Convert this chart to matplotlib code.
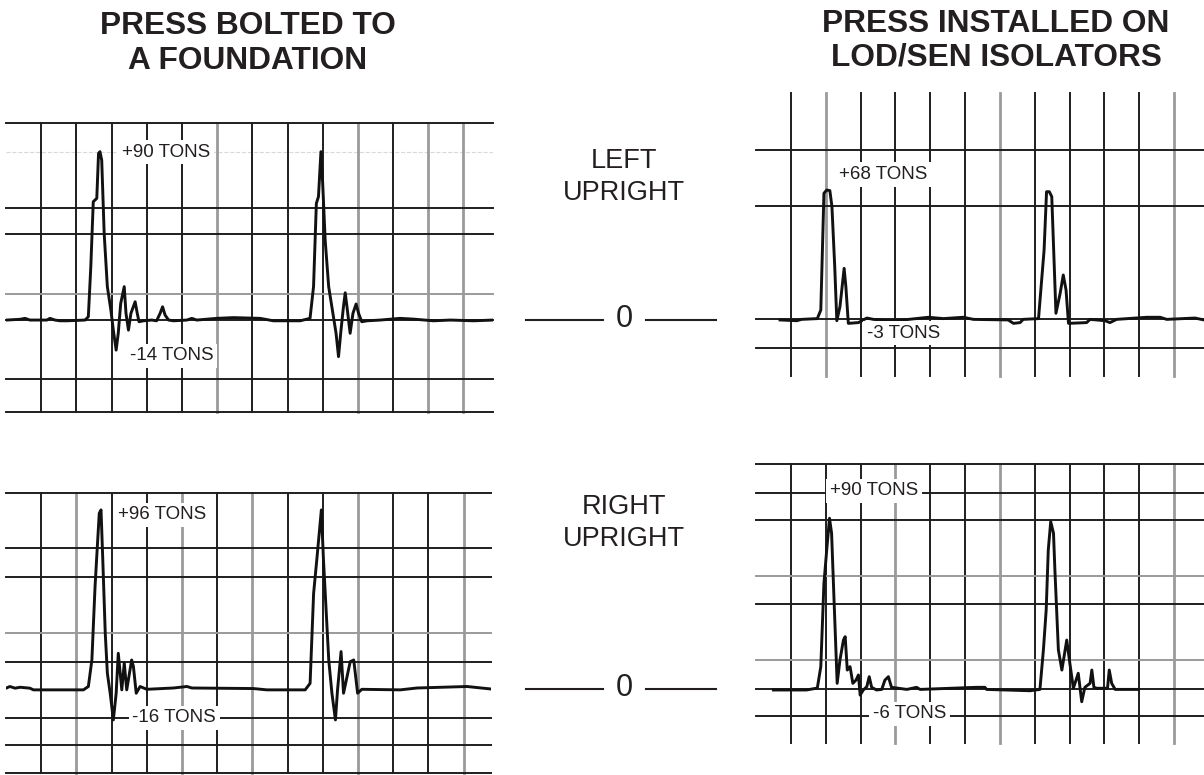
import matplotlib
matplotlib.use("Agg")
import matplotlib.pyplot as plt

plt.rcParams['font.family'] = ['Liberation Sans', 'DejaVu Sans']

W, H = 1204, 775
INK = '#231f20'
GRID = '#1e1e1e'
GRAY = '#9a9a9a'

# strip chart traces: time in chart divisions, force in tons
bolted_left_t = [0.02, 0.40, 0.54, 0.68, 1.16, 1.25, 1.39, 1.54, 1.73, 2.25, 2.34, 2.41, 2.48, 2.58,
                 2.63, 2.67, 2.72, 2.79, 2.88, 2.98, 3.05, 3.13, 3.19, 3.26, 3.36, 3.41, 3.48, 3.55,
                 3.67, 3.73, 3.78, 3.91, 4.14, 4.28, 4.38, 4.45, 4.52, 4.62, 4.76, 5.14, 5.28, 5.42,
                 5.99, 6.46, 7.22, 7.60, 8.36, 8.64, 8.74, 8.82, 8.88, 8.95, 9.00, 9.07, 9.17, 9.29,
                 9.38, 9.45, 9.52, 9.59, 9.64, 9.69, 9.78, 9.86, 9.95, 10.02, 10.11, 10.26, 10.64,
                 11.20, 11.58, 12.15, 12.63, 13.29, 13.84]
bolted_left_tons = [0, 0.4, 0.9, 0, 0, 0.9, 0, -0.4, -0.4, 0, 1.8, 28.6, 63.4, 65.2,
                    89.3, 90.2, 85.7, 46.4, 17.9, 5.4, -5.4, -16.1, -7.1, 8.9, 17.9, 3.6, -5.4, 3.6,
                    9.8, 3.6, -0.9, -0.4, 0, -0.4, 3.6, 7.1, 2.7, 0, -0.4, 0, 0.9, 0,
                    0.9, 1.3, 0.9, -0.4, -0.4, 0.9, 17.9, 62.5, 66.1, 90.2, 73.2, 42.9, 17.9, 3.6,
                    -7.1, -19.6, -5.4, 7.1, 14.6, 7.1, -7.1, 3.6, 8.6, 3.6, -0.9, -0.4, 0,
                    0.9, 0.5, -0.4, 0, -0.4, 0]

iso_left_t = [0.69, 1.17, 1.31, 1.76, 1.86, 1.95, 2.03, 2.12, 2.18, 2.26, 2.32, 2.41, 2.53, 2.58,
              2.65, 2.94, 3.18, 3.37, 3.85, 4.23, 4.95, 5.38, 5.95, 6.24, 7.24, 7.39, 7.58, 7.67,
              8.11, 8.20, 8.27, 8.34, 8.42, 8.49, 8.61, 8.73, 8.82, 8.90, 8.97, 9.49, 9.59, 10.02,
              10.16, 10.35, 11.22, 11.60, 11.79, 12.60, 12.86]
iso_left_tons = [-0.5, -0.9, -0.2, 0.2, 4.7, 66.3, 68.0, 67.7, 59.2, 27.6, -0.9, 6.5, 26.7, 17.0,
                 -2.3, -1.9, 0.5, -0.2, -0.9, -0.5, 0.9, 0.2, 0.9, -0.2, -0.5, -2.3, -1.9, -0.2,
                 0.2, 20.6, 36.4, 67.1, 67.1, 64.5, 3.0, 13.5, 23.2, 15.3, -2.3, -1.9, -0.2, -0.9,
                 -1.9, -0.2, 0.9, 0.9, -0.2, 0.5, -0.5]

bolted_right_t = [0, 0.11, 0.26, 0.40, 0.68, 0.78, 2.20, 2.34, 2.44, 2.53, 2.60, 2.65, 2.70, 2.75,
                  2.82, 2.88, 2.96, 3.05, 3.13, 3.19, 3.29, 3.36, 3.43, 3.57, 3.62, 3.70, 3.81, 4.00,
                  4.76, 5.14, 5.28, 7.03, 7.41, 8.50, 8.64, 8.74, 8.83, 8.96, 9.02, 9.17, 9.26, 9.36,
                  9.42, 9.52, 9.59, 9.78, 9.88, 9.99, 10.11, 11.20, 11.68, 13.10, 13.76]
bolted_right_tons = [0.4, 1.3, 0.4, 0.9, 0.4, -0.5, -0.5, 1.3, 15.5, 54.8, 78.0, 94.1, 95.9, 69.1,
                     29.8, 8.4, -2.3, -16.6, -2.3, 19.1, -0.5, 13.8, -0.5, 15.5, 12.0, -2.3, 1.3, -0.2,
                     0.5, 1.3, 0.5, 0.2, -0.5, -0.5, 3.0, 51.2, 69.1, 95.9, 69.1, 15.5, -2.3, -16.6,
                     -0.5, 20.0, -2.3, 14.6, 15.5, -2.3, -0.2, -0.5, 0.5, 1.3, 0]

iso_right_t = [0.50, 1.02, 1.45, 1.76, 1.86, 1.95, 2.03, 2.11, 2.17, 2.24, 2.33, 2.41, 2.51, 2.56,
               2.62, 2.70, 2.78, 2.87, 2.94, 2.99, 3.08, 3.18, 3.25, 3.32, 3.46, 3.61, 3.70, 3.80,
               3.89, 4.33, 4.61, 4.71, 6.33, 6.57, 6.62, 7.87, 8.15, 8.25, 8.33, 8.39, 8.46, 8.54,
               8.58, 8.68, 8.78, 8.92, 9.01, 9.11, 9.25, 9.35, 9.44, 9.59, 9.64, 9.70, 9.78, 10.09,
               10.14, 10.21, 10.31, 10.98]
iso_right_tons = [-0.5, -0.5, -0.5, 0.5, 11.8, 55.7, 73.3, 90.0, 82.1, 46.9, 3.0, 15.3, 25.8, 27.6,
                  10.0, 11.8, 3.0, 4.7, 7.4, -3.2, -0.5, 1.2, 6.5, 0.9, -0.5, -0.2, 4.7, 6.5,
                  0.9, -0.2, 0.9, -0.2, 0.9, 0.9, -0.2, -0.9, -0.2, 20.6, 41.7, 73.3, 88.2, 82.1,
                  62.7, 20.6, 10.0, 25.8, 13.5, 0.4, 8.3, -6.7, 0.9, 3.0, 10.0, 0.9, 0.4, 0.4,
                  10.0, 3.0, -0.2, -0.2]

# chart paper rulings (tons) and which divisions print light
bolted_left_rules = [105.4, 59.8, 45.9, 0, -31.8, -49.1]
bolted_left_light = [13.8]
iso_left_rules = [89.1, 59.8, 0, -15.5]
iso_left_light = []
bolted_right_rules = [104.8, 75.4, 59.8, 14.3, -15.4, -30.0, -45.2]
bolted_right_light = [29.8]
iso_right_rules = [118.6, 103.5, 89.1, 44.6, 0, -14.2]
iso_right_light = [59.8, 15.3]

peak_labels = ['+90 TONS', '+68 TONS', '+96 TONS', '+90 TONS']
dip_labels = ['-14 TONS', '-3 TONS', '-16 TONS', '-6 TONS']

fig = plt.figure(figsize=(W / 100, H / 100), dpi=100)


def px_axes(l, t, r, b):
    return fig.add_axes([l / W, 1 - b / H, (r - l) / W, (b - t) / H])


def strip(rect, ylim, xmax, nv, light_v, rules, light_rules, t, tons, peak, dip):
    ax = px_axes(*rect)
    ax.set_xlim(0, xmax)
    ax.set_ylim(*ylim)
    ax.axis('off')
    for v in range(1, nv + 1):
        if v in light_v:
            ax.axvline(v, color=GRAY, lw=2.0, clip_on=False, zorder=1)
        else:
            ax.axvline(v, color=GRID, lw=1.4, clip_on=False, zorder=1)
    for r in rules:
        ax.axhline(r, color=GRID, lw=1.4, clip_on=False, zorder=1)
    for r in light_rules:
        ax.axhline(r, color=GRAY, lw=1.4, clip_on=False, zorder=1)
    ax.plot(t, tons, color='#111111', lw=2.1, solid_joinstyle='round', zorder=3)
    box = dict(facecolor='white', edgecolor='none', pad=2.5)
    ax.text(peak[0], peak[1], peak[2], fontsize=13.5, color=INK, va='center', ha='left',
            bbox=box, zorder=5)
    ax.text(dip[0], dip[1], dip[2], fontsize=13.5, color=INK, va='center', ha='left',
            bbox=box, zorder=5)
    return ax


ax1 = strip((6, 123.3, 493, 411.7), (-49.1, 105.4), 13.84, 13, [6, 10, 12, 13],
            bolted_left_rules, bolted_left_light, bolted_left_t, bolted_left_tons,
            (3.29, 90, peak_labels[0]), (3.51, -19.2, dip_labels[0]))
ax1.axhline(90, color='#d9d9d9', lw=0.8, ls='--', zorder=0.5)

strip((756, 93.3, 1204, 375.7), (-29.9, 119), 12.86, 12, [2, 7, 12],
      iso_left_rules, iso_left_light, iso_left_t, iso_left_tons,
      (2.39, 76.2, peak_labels[1]), (3.18, -7.6, dip_labels[1]))

strip((6, 493.3, 491, 773.3), (-45.2, 104.8), 13.78, 13, [2, 5, 7, 10, 13],
      bolted_right_rules, bolted_right_light, bolted_right_t, bolted_right_tons,
      (3.19, 93.4, peak_labels[2]), (3.59, -15.5, dip_labels[2]))

strip((756, 464, 1204, 743.3), (-28.6, 118.6), 12.86, 12, [4, 7, 12],
      iso_right_rules, iso_right_light, iso_right_t, iso_right_tons,
      (2.12, 104.4, peak_labels[3]), (3.35, -13.0, dip_labels[3]))

# zero reference marks between the columns
for rect, ylim in [((500, 123.3, 740, 411.7), (-49.1, 105.4)),
                   ((500, 493.3, 740, 773.3), (-45.2, 104.8))]:
    axm = px_axes(*rect)
    axm.set_xlim(0, 1)
    axm.set_ylim(*ylim)
    axm.axis('off')
    axm.axhline(0, xmin=0.11, xmax=0.43, color=INK, lw=1.5)
    axm.axhline(0, xmin=0.61, xmax=0.90, color=INK, lw=1.5)
    axm.text(0.52, 0.5, '0', fontsize=22, color=INK, ha='center', va='center')

fig.text(247.5 / W, 1 - 43.5 / H, 'PRESS BOLTED TO\nA FOUNDATION', fontsize=22.8,
         fontweight='bold', color=INK, ha='center', va='center', linespacing=1.26)
fig.text(996 / W, 1 - 41.0 / H, 'PRESS INSTALLED ON\nLOD/SEN ISOLATORS', fontsize=22.8,
         fontweight='bold', color=INK, ha='center', va='center', linespacing=1.15)
fig.text(624 / W, 1 - 177 / H, 'LEFT\nUPRIGHT', fontsize=19.5, color=INK,
         ha='center', va='center', linespacing=1.25)
fig.text(624 / W, 1 - 523 / H, 'RIGHT\nUPRIGHT', fontsize=19.5, color=INK,
         ha='center', va='center', linespacing=1.25)

fig.savefig('out.png', dpi=100, facecolor='white')
